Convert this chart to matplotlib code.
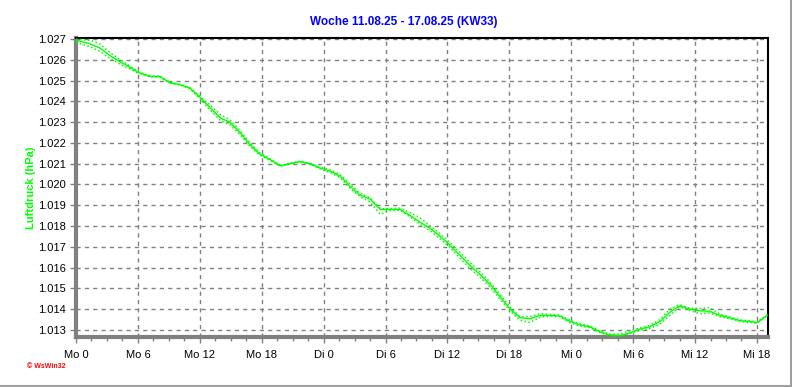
import matplotlib
matplotlib.use("Agg")
import matplotlib.pyplot as plt
from matplotlib.ticker import MultipleLocator, FixedLocator
from matplotlib.lines import Line2D
import numpy as np

plt.rcParams['font.family'] = ['Liberation Sans', 'DejaVu Sans']

title = "Woche 11.08.25 - 17.08.25 (KW33)"
ylabel = "Luftdruck (hPa)"
credit = "© WsWin32"

hours = [0, 1.4, 2.3, 3.3, 4.3, 5.2, 6, 7.2, 8.1, 9.1, 10.1, 11, 12, 13, 14, 14.9, 15.9,
         16.9, 17.8, 18.8, 19.8, 20.7, 21.7, 22.7, 23.6, 24.6, 25.6, 26.6, 27.5, 28.5,
         29.5, 30.4, 31.4, 32.4, 33.3, 34.3, 35.3, 36.2, 37.2, 38.2, 39.1, 40.1, 41.1,
         42.1, 43, 44, 45, 46, 46.9, 47.9, 48.8, 49.8, 50.8, 51.7, 52.7, 53.7, 54.7,
         55.6, 56.6, 57.6, 58.5, 59.5, 60.5, 61.4, 62.4, 63.4, 64.3, 65.3, 66, 67]
pressure = [1.02695, 1.02676, 1.02657, 1.0262, 1.0259, 1.02565, 1.0254, 1.0252, 1.0252,
            1.0249, 1.0248, 1.02465, 1.0242, 1.0237, 1.0232, 1.0230, 1.0225, 1.0219,
            1.02147, 1.0212, 1.0209, 1.0210, 1.0211, 1.0210, 1.0208, 1.02065, 1.0204,
            1.0199, 1.0195, 1.0193, 1.0188, 1.0188, 1.0188, 1.0185, 1.0182, 1.0179,
            1.0175, 1.0171, 1.0166, 1.0161, 1.0157, 1.0152, 1.0146, 1.0140, 1.01359,
            1.01354, 1.0137, 1.0137, 1.01367, 1.0134, 1.01325, 1.01315, 1.0129, 1.01277,
            1.01272, 1.01286, 1.01305, 1.01315, 1.0134, 1.01387, 1.01416, 1.0140,
            1.01392, 1.0139, 1.0137, 1.01358, 1.01345, 1.0134, 1.01335, 1.0137]
# deviations of the dotted max / min envelope from the mean line
dev_hi = [0.00005, 0.00018, 0.00020, 0.00015, 0.00010, 0.00006, 0.00003, 0.00002, 0.00002,
          0.00002, 0.00002, 0.00003, 0.00006, 0.00012, 0.00016, 0.00012, 0.00010, 0.00008,
          0.00006, 0.00004, 0.00002, 0.00002, 0.00002, 0.00002, 0.00004, 0.00006, 0.00008,
          0.00010, 0.00008, 0.00006, 0.00004, 0.00004, 0.00006, 0.00014, 0.00022, 0.00012,
          0.00012, 0.00012, 0.00014, 0.00014, 0.00012, 0.00012, 0.00012, 0.00008, 0.00006,
          0.00010, 0.00008, 0.00004, 0.00004, 0.00006, 0.00006, 0.00005, 0.00004, 0.00003,
          0.00008, 0.00010, 0.00006, 0.00006, 0.00010, 0.00015, 0.00006, 0.00004,
          0.00012, 0.00018, 0.00006, 0.00004, 0.00004, 0.00004, 0.00003, 0.00002]
dev_lo = [0.00010, 0.00014, 0.00016, 0.00014, 0.00012, 0.00008, 0.00004, 0.00002, 0.00002,
          0.00002, 0.00002, 0.00003, 0.00006, 0.00012, 0.00012, 0.00012, 0.00010, 0.00008,
          0.00006, 0.00004, 0.00002, 0.00002, 0.00002, 0.00002, 0.00004, 0.00006, 0.00008,
          0.00010, 0.00008, 0.00014, 0.00024, 0.00006, 0.00004, 0.00006, 0.00010, 0.00012,
          0.00012, 0.00012, 0.00014, 0.00014, 0.00014, 0.00012, 0.00012, 0.00010, 0.00012,
          0.00018, 0.00008, 0.00004, 0.00004, 0.00006, 0.00006, 0.00004, 0.00003, 0.00003,
          0.00003, 0.00003, 0.00006, 0.00008, 0.00012, 0.00015, 0.00006, 0.00006,
          0.00015, 0.00008, 0.00006, 0.00004, 0.00004, 0.00004, 0.00003, 0.00002]

xtick_pos = [0, 6, 12, 18, 24, 30, 36, 42, 48, 54, 60, 66]
xtick_labels = ["Mo 0", "Mo 6", "Mo 12", "Mo 18", "Di 0", "Di 6", "Di 12", "Di 18",
                "Mi 0", "Mi 6", "Mi 12", "Mi 18"]
ytick_vals = [1.013, 1.014, 1.015, 1.016, 1.017, 1.018, 1.019, 1.020, 1.021, 1.022,
              1.023, 1.024, 1.025, 1.026, 1.027]

W, H = 792, 387
fig = plt.figure(figsize=(W / 100, H / 100), dpi=100)
ax = fig.add_axes([76 / W, 1 - 337 / H, (768 - 76) / W, (337 - 38) / H])

x = np.array(hours)
p = np.array(pressure)
hi = p + np.array(dev_hi)
lo = p - np.array(dev_lo)

green = "#00ff00"
ax.plot(x, hi, color=green, lw=1.1, ls=(0, (1, 1.6)), zorder=3)
ax.plot(x, lo, color=green, lw=1.1, ls=(0, (1, 1.6)), zorder=3)
ax.plot(x, p, color=green, lw=1.0, zorder=4)

ax.set_xlim(0, 67.07)
ax.set_ylim(1.01266, 1.02705)
ax.xaxis.set_major_locator(FixedLocator(xtick_pos))
ax.set_xticklabels(xtick_labels)
ax.xaxis.set_minor_locator(MultipleLocator(1.5))
ax.yaxis.set_major_locator(FixedLocator(ytick_vals))
ax.set_yticklabels([f"{v:.3f}" for v in ytick_vals])

ax.grid(True, which="major", color="#808080", ls=(0, (3, 3)), lw=1.0)
ax.tick_params(axis="both", which="major", labelsize=8, color="#808080",
               length=4, width=1, direction="out")
ax.tick_params(axis="x", which="minor", color="#808080", length=3, width=1)
ax.tick_params(axis="x", pad=5)
ax.tick_params(axis="y", pad=3)

for s in ["left", "bottom"]:
    ax.spines[s].set_color("#808080")
    ax.spines[s].set_linewidth(3)
for s in ["top", "right"]:
    ax.spines[s].set_color("black")
    ax.spines[s].set_linewidth(1.5)

fig.text(404 / W, 1 - 22 / H, title, color="#0000ff", fontsize=8.5,
         fontweight="bold", ha="center", va="center")
fig.text(31 / W, 1 - 188 / H, ylabel, color=green, fontsize=8, fontweight="bold",
         rotation=90, ha="center", va="center")
fig.text(27 / W, 1 - 367 / H, credit, color="#ff0000", fontsize=5, fontweight="bold",
         ha="left", va="center")

# outer frame lines (bottom & right)
fig.add_artist(Line2D([0, 1], [1.5 / H, 1.5 / H], color="#a0a0a0", lw=1.5,
                      transform=fig.transFigure))
fig.add_artist(Line2D([1 - 1.5 / W, 1 - 1.5 / W], [0, 1], color="#a0a0a0", lw=1.5,
                      transform=fig.transFigure))

fig.savefig("out.png", dpi=100, facecolor="white")
